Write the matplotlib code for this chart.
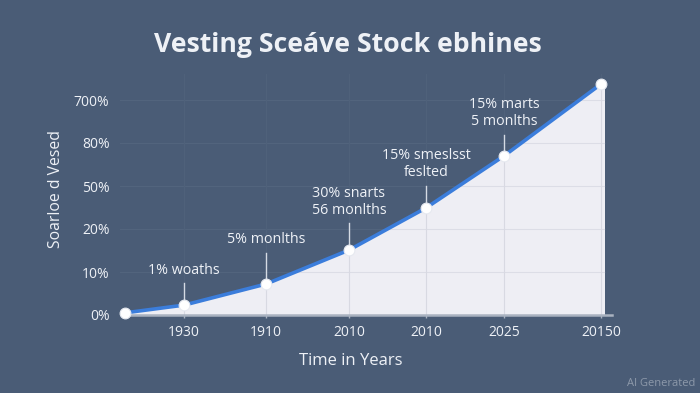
import matplotlib
matplotlib.use('Agg')
from matplotlib import pyplot as plt
from matplotlib.patches import Polygon

# 数据
x_pos = [0, 0.59, 1.41, 2.24, 3.01, 3.79, 4.76]
y_vals = [0.05, 0.23, 0.72, 1.51, 2.49, 3.70, 5.37]
x_tick_labels = ['1930', '1910', '2010', '2010', '2025', '20150']
y_tick_labels = ['0%', '10%', '20%', '50%', '80%', '700%']
notes = ['1% woaths', '5% monlths', '30% snarts\n56 monlths',
         '15% smeslsst\nfeslted', '15% marts\n5 monlths']
# 注释线（下端, 上端）与文字底部的位置
note_lines = [(0.35, 0.74), (0.81, 1.44), (1.63, 2.14), (2.56, 3.0), (3.84, 4.19)]
note_text_y = [0.86, 1.58, 2.26, 3.13, 4.33]

bg = '#4a5c76'
txt = '#eef1f6'
plt.rcParams['font.family'] = ['Open Sans', 'DejaVu Sans']

fig = plt.figure(figsize=(7, 3.93), dpi=100, facecolor=bg)
W, H = 700, 393
x0, y0, xu, yu = 125, 315, 100, 43
left_px, right_px, top_px, bot_px = 115, 640, 70, 315
ax = fig.add_axes([left_px / W, 1 - bot_px / H, (right_px - left_px) / W, (bot_px - top_px) / H])
ax.set_facecolor(bg)
ax.set_xlim((left_px - x0) / xu, (right_px - x0) / xu)
ax.set_ylim((y0 - bot_px) / yu, (y0 - top_px) / yu)
for s in ax.spines.values():
    s.set_visible(False)

# 填充区域
xmax = x_pos[-1] + 0.04
poly_pts = list(zip(x_pos, y_vals)) + [(xmax, y_vals[-1]), (xmax, 0), (0, 0)]
fill = Polygon(poly_pts, closed=True, facecolor='#eeeef4', edgecolor='none', zorder=2)
ax.add_patch(fill)

# 网格线
for i in range(1, len(y_tick_labels)):
    ax.plot([-0.05, xmax], [i, i], color='#52647d', lw=0.8, zorder=1)
    gl, = ax.plot([0, xmax], [i, i], color='#dcdde6', lw=0.8, zorder=3)
    gl.set_clip_path(fill)
for xp in x_pos[1:]:
    ax.plot([xp, xp], [0, 5.6], color='#4f617a', lw=0.8, zorder=1)
    vl, = ax.plot([xp, xp], [0, 5.6], color='#d8d9e2', lw=0.8, zorder=3)
    vl.set_clip_path(fill)

# 基线
ax.plot([0, 4.87], [0, 0], color='#a9b2c0', lw=1.8, zorder=4, clip_on=False)

# 曲线与点
ax.plot(x_pos, y_vals, color='#3b7ddb', lw=2.6, zorder=5, solid_capstyle='round', clip_on=False)
ax.scatter(x_pos, y_vals, s=60, color='white', edgecolor='#e6e9f0', lw=0.8, zorder=6, clip_on=False)

# 注释
for i, n in enumerate(notes):
    xp = x_pos[i + 1]
    ax.plot([xp, xp], note_lines[i], color='#d5dbe4', lw=1, zorder=4)
    ax.text(xp, note_text_y[i], n, ha='center', va='bottom', color=txt,
            fontsize=10.3, linespacing=1.2, zorder=7)

# 刻度
ax.set_xticks(x_pos[1:])
ax.set_xticklabels(x_tick_labels)
ax.set_yticks(range(len(y_tick_labels)))
ax.set_yticklabels(y_tick_labels)
ax.tick_params(axis='x', colors='#a9b2c0', length=2.5, width=1, pad=5, labelcolor=txt, labelsize=10)
ax.tick_params(axis='y', length=0, pad=4, labelcolor=txt, labelsize=10)

# 标题与轴名称
fig.text(348 / W, 1 - 45 / H, 'Vesting Sceáve Stock ebhines', ha='center', va='center',
         color=txt, fontsize=19.2, fontweight='bold')
fig.text(351 / W, 1 - 361 / H, 'Time in Years', ha='center', va='center', color=txt, fontsize=12)
fig.text(56 / W, 1 - 189 / H, 'Soarloe d Vesed', ha='center', va='center', color=txt,
         fontsize=11.3, rotation=90)
fig.text(695 / W, 1 - 383 / H, 'AI Generated', ha='right', va='center', color='#8d99aa', fontsize=8)

fig.savefig('out.png', dpi=100, facecolor=bg)
